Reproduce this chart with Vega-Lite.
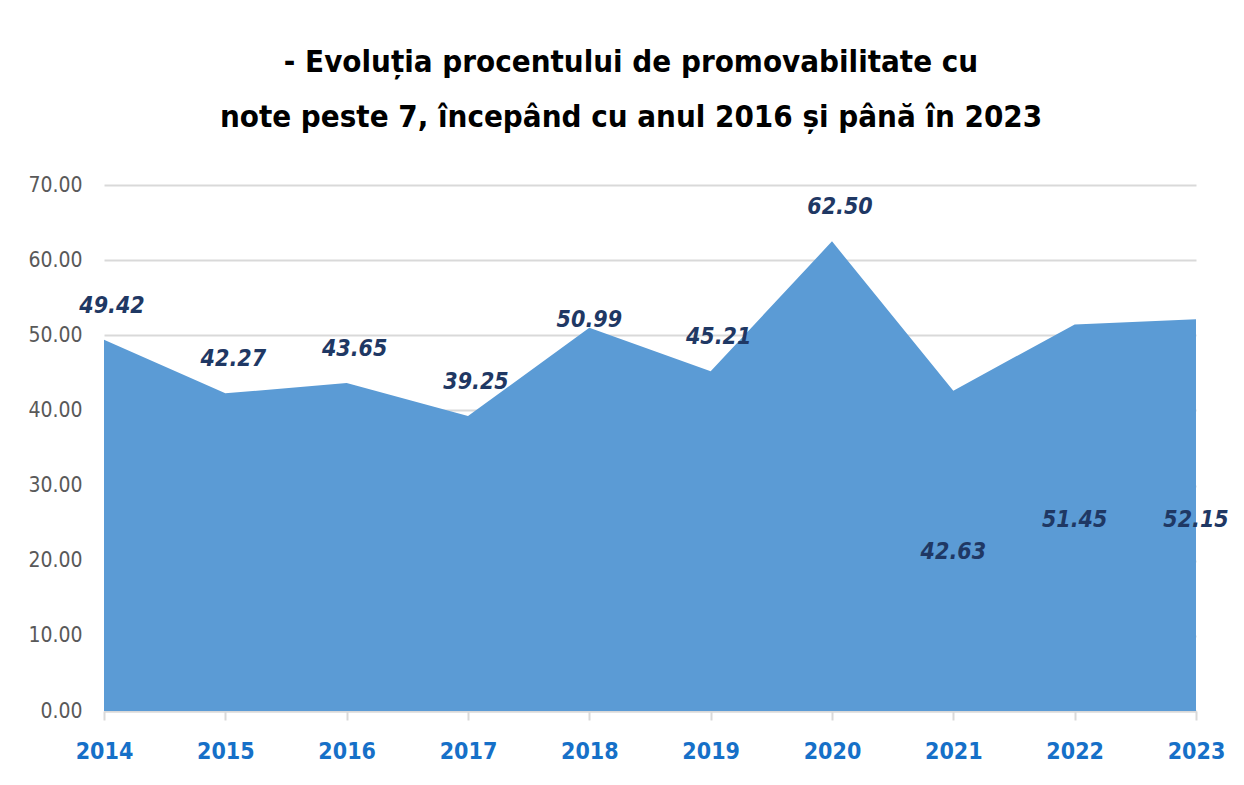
{
  "$schema": "https://vega.github.io/schema/vega-lite/v6.json",
  "width": 1092,
  "height": 526,
  "autosize": {"type": "none"},
  "padding": {"left": 104, "top": 185, "right": 48, "bottom": 74},
  "background": "white",
  "config": {"view": {"stroke": null}},
  "title": {
    "text": "- Evoluția procentului de promovabilitate cu",
    "subtitle": "note peste 7, începând cu anul 2016 și până în 2023",
    "font": "DejaVu Sans Condensed",
    "subtitleFont": "DejaVu Sans Condensed",
    "fontSize": 31,
    "subtitleFontSize": 31,
    "fontWeight": "bold",
    "subtitleFontWeight": "bold",
    "color": "black",
    "subtitleColor": "black",
    "anchor": "middle",
    "dx": -19,
    "subtitlePadding": 24,
    "offset": 40
  },
  "data": {
    "values": [
      {"year": "2014", "value": 49.42},
      {"year": "2015", "value": 42.27},
      {"year": "2016", "value": 43.65},
      {"year": "2017", "value": 39.25},
      {"year": "2018", "value": 50.99},
      {"year": "2019", "value": 45.21},
      {"year": "2020", "value": 62.50},
      {"year": "2021", "value": 42.63},
      {"year": "2022", "value": 51.45},
      {"year": "2023", "value": 52.15}
    ]
  },
  "encoding": {
    "x": {
      "field": "year",
      "type": "ordinal",
      "scale": {"type": "point", "padding": 0},
      "axis": {
        "title": null,
        "labelAngle": 0,
        "labelFont": "DejaVu Sans Condensed",
        "labelFontSize": 23,
        "labelFontWeight": "bold",
        "labelColor": "#1670C8",
        "labelPadding": 20,
        "tickColor": "#D9D9D9",
        "tickWidth": 2,
        "tickSize": 9,
        "domainColor": "#D9D9D9",
        "domainWidth": 2,
        "grid": false
      }
    }
  },
  "layer": [
    {
      "mark": {"type": "area", "color": "#5B9BD5", "opacity": 1},
      "encoding": {
        "y": {
          "field": "value",
          "type": "quantitative",
          "scale": {"domain": [0, 70], "nice": false},
          "axis": {
            "title": null,
            "values": [0, 10, 20, 30, 40, 50, 60, 70],
            "format": ".2f",
            "labelFont": "DejaVu Sans Condensed",
            "labelFontSize": 21,
            "labelColor": "#595959",
            "labelPadding": 22,
            "ticks": false,
            "domain": false,
            "grid": true,
            "gridColor": "#D9D9D9",
            "gridWidth": 2
          }
        }
      }
    },
    {
      "transform": [{"filter": "datum.year <= '2020' && datum.year != '2018'"}],
      "mark": {"type": "text", "font": "DejaVu Sans Condensed", "fontSize": 23, "fontWeight": "bold", "fontStyle": "italic", "color": "#1F3864", "dy": -34, "dx": 8},
      "encoding": {
        "y": {"field": "value", "type": "quantitative"},
        "text": {"field": "value", "type": "quantitative", "format": ".2f"}
      }
    },
    {
      "transform": [{"filter": "datum.year == '2018'"}],
      "mark": {"type": "text", "font": "DejaVu Sans Condensed", "fontSize": 23, "fontWeight": "bold", "fontStyle": "italic", "color": "#1F3864", "dy": -8},
      "encoding": {
        "y": {"field": "value", "type": "quantitative"},
        "text": {"field": "value", "type": "quantitative", "format": ".2f"}
      }
    },
    {
      "transform": [{"filter": "datum.year == '2021'"}],
      "mark": {"type": "text", "font": "DejaVu Sans Condensed", "fontSize": 23, "fontWeight": "bold", "fontStyle": "italic", "color": "#1F3864"},
      "encoding": {
        "y": {"datum": 21.2, "type": "quantitative"},
        "text": {"field": "value", "type": "quantitative", "format": ".2f"}
      }
    },
    {
      "transform": [{"filter": "datum.year >= '2022'"}],
      "mark": {"type": "text", "font": "DejaVu Sans Condensed", "fontSize": 23, "fontWeight": "bold", "fontStyle": "italic", "color": "#1F3864"},
      "encoding": {
        "y": {"datum": 25.4, "type": "quantitative"},
        "text": {"field": "value", "type": "quantitative", "format": ".2f"}
      }
    }
  ]
}
